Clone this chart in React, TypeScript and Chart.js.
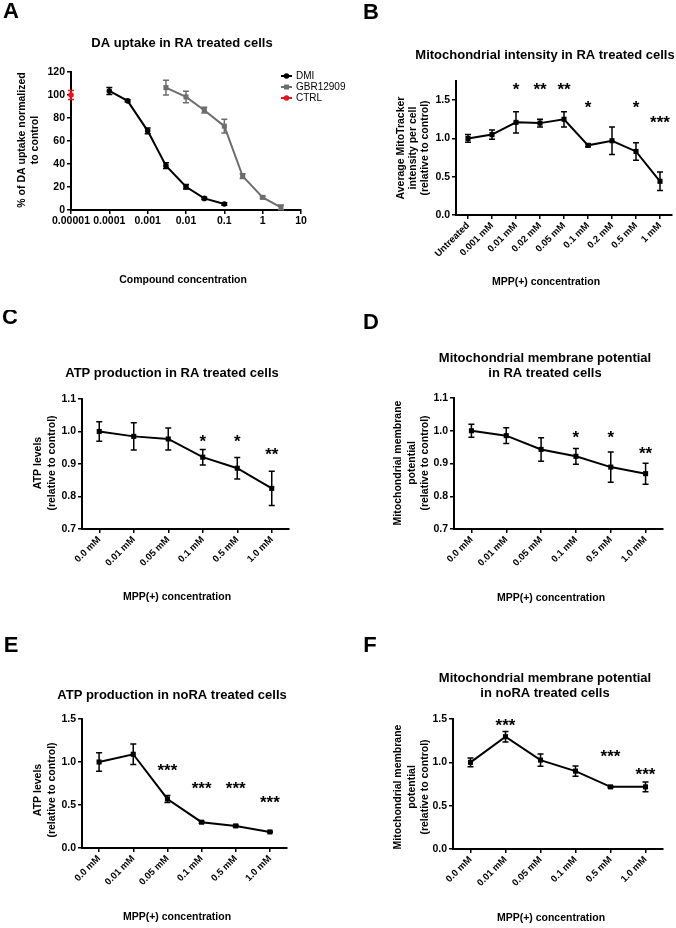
import React, { useEffect, useRef } from 'react';
import { Chart, registerables } from 'chart.js';
Chart.register(...registerables);

const FONT = "'Liberation Sans', Arial, Helvetica, sans-serif";

// ---------- Panel A data ----------
const A_X_TICKS = [0.00001, 0.0001, 0.001, 0.01, 0.1, 1, 10];
const A_X_TICK_LABELS = ['0.00001', '0.0001', '0.001', '0.01', '0.1', '1', '10'];
const A_Y_TICKS = [0, 20, 40, 60, 80, 100, 120];
const A_DMI_X = [0.0001, 0.0003, 0.001, 0.003, 0.01, 0.03, 0.1];
const A_DMI_Y = [103.5, 94.9, 68.8, 38.5, 20.2, 10.1, 5.2];
const A_DMI_ERR = [3, 1, 2.5, 2.5, 2, 1, 1];
const A_GBR_X = [0.003, 0.01, 0.03, 0.1, 0.3, 1, 3];
const A_GBR_Y = [106.4, 98.3, 86.8, 72.9, 29.5, 11, 2.3];
const A_GBR_ERR = [6.5, 5, 2.5, 6, 2, 1, 2];
const A_CTRL_X = [0.00001];
const A_CTRL_Y = [100];
const A_CTRL_ERR = [4];
const A_SERIES = ['DMI', 'GBR12909', 'CTRL'];

// ---------- Panel B data ----------
const B_CATEGORIES = ['Untreated', '0.001 mM', '0.01 mM', '0.02 mM', '0.05 mM', '0.1 mM', '0.2 mM', '0.5 mM', '1 mM'];
const B_VALUES = [1.0, 1.05, 1.21, 1.2, 1.25, 0.91, 0.97, 0.83, 0.44];
const B_ERRORS = [0.05, 0.06, 0.14, 0.05, 0.1, 0.02, 0.18, 0.115, 0.12];
const B_STARS = ['', '', '*', '**', '**', '*', '', '*', '***'];
const B_STAR_Y = [null, null, 1.69, 1.69, 1.69, 1.46, null, 1.46, 1.26];
const B_Y_TICKS = [0, 0.5, 1.0, 1.5];

// ---------- Panels C-F shared categories ----------
const MPP_CATEGORIES = ['0.0 mM', '0.01 mM', '0.05 mM', '0.1 mM', '0.5 mM', '1.0 mM'];

const C_VALUES = [1.0, 0.985, 0.977, 0.921, 0.887, 0.825];
const C_ERRORS = [0.03, 0.042, 0.034, 0.024, 0.033, 0.053];
const C_STARS = ['', '', '', '*', '*', '**'];
const C_STAR_Y = [null, null, null, 0.983, 0.983, 0.943];
const C_Y_TICKS = [0.7, 0.8, 0.9, 1.0, 1.1];

const D_VALUES = [1.0, 0.985, 0.943, 0.922, 0.889, 0.869];
const D_ERRORS = [0.02, 0.024, 0.036, 0.024, 0.046, 0.032];
const D_STARS = ['', '', '', '*', '*', '**'];
const D_STAR_Y = [null, null, null, 0.992, 0.992, 0.943];
const D_Y_TICKS = [0.7, 0.8, 0.9, 1.0, 1.1];

const E_VALUES = [1.0, 1.09, 0.57, 0.3, 0.257, 0.187];
const E_ERRORS = [0.107, 0.12, 0.04, 0.012, 0.01, 0.008];
const E_STARS = ['', '', '***', '***', '***', '***'];
const E_STAR_Y = [null, null, 0.945, 0.74, 0.74, 0.578];
const E_Y_TICKS = [0, 0.5, 1.0, 1.5];

const F_VALUES = [1.0, 1.296, 1.026, 0.899, 0.717, 0.717];
const F_ERRORS = [0.05, 0.06, 0.07, 0.06, 0.01, 0.055];
const F_STARS = ['', '***', '', '', '***', '***'];
const F_STAR_Y = [null, 1.47, null, null, 1.11, 0.91];
const F_Y_TICKS = [0, 0.5, 1.0, 1.5];

// ---------- helpers ----------
const Y_W = 30;
const X_H = 50;

type TextItem = { text: string; x: number; y: number; size: number; rotate?: boolean };

function textPlugin(items: TextItem[]) {
  return {
    id: 'panelText',
    afterDraw(chart: any) {
      const ctx = chart.ctx;
      for (const it of items) {
        ctx.save();
        ctx.font = `bold ${it.size}px ${FONT}`;
        ctx.fillStyle = '#000';
        ctx.textAlign = 'center';
        ctx.textBaseline = 'middle';
        ctx.translate(it.x, it.y);
        if (it.rotate) ctx.rotate(-Math.PI / 2);
        ctx.fillText(it.text, 0, 0);
        ctx.restore();
      }
    },
  };
}

const errorBarPlugin = {
  id: 'errorBars',
  afterDatasetsDraw(chart: any) {
    const ctx = chart.ctx;
    chart.data.datasets.forEach((ds: any, di: number) => {
      const errs = ds.errors;
      if (!errs) return;
      const meta = chart.getDatasetMeta(di);
      const yScale = chart.scales[meta.yAxisID];
      ctx.save();
      ctx.strokeStyle = ds.borderColor;
      ctx.lineWidth = 1.5;
      meta.data.forEach((pt: any, i: number) => {
        const raw = ds.data[i];
        const val = typeof raw === 'object' ? raw.y : raw;
        const e = errs[i];
        if (!e) return;
        const yTop = yScale.getPixelForValue(val + e);
        const yBot = yScale.getPixelForValue(val - e);
        const x = pt.x;
        ctx.beginPath();
        ctx.moveTo(x, yTop);
        ctx.lineTo(x, yBot);
        ctx.moveTo(x - 3, yTop);
        ctx.lineTo(x + 3, yTop);
        ctx.moveTo(x - 3, yBot);
        ctx.lineTo(x + 3, yBot);
        ctx.stroke();
      });
      ctx.restore();
    });
  },
};

function starPlugin(labels: string[], values: (number | null)[], size: number) {
  return {
    id: 'stars',
    afterDatasetsDraw(chart: any) {
      const ctx = chart.ctx;
      const xs = chart.scales.x;
      const ys = chart.scales.y;
      ctx.save();
      ctx.font = `bold ${size}px ${FONT}`;
      ctx.fillStyle = '#000';
      ctx.textAlign = 'center';
      ctx.textBaseline = 'alphabetic';
      labels.forEach((lab, i) => {
        const v = values[i];
        if (!lab || v == null) return;
        const x = xs.getPixelForValue(i);
        const y = ys.getPixelForValue(v);
        ctx.fillText(lab, x, y + 0.57 * size);
      });
      ctx.restore();
    },
  };
}

function legendPlugin(entries: { label: string; color: string; style: string }[], x: number, ys: number[]) {
  return {
    id: 'legendA',
    afterDraw(chart: any) {
      const ctx = chart.ctx;
      entries.forEach((en, i) => {
        const y = ys[i];
        ctx.save();
        ctx.strokeStyle = en.color;
        ctx.fillStyle = en.color;
        ctx.lineWidth = 2;
        ctx.beginPath();
        ctx.moveTo(x, y);
        ctx.lineTo(x + 11, y);
        ctx.stroke();
        ctx.beginPath();
        if (en.style === 'rect') ctx.rect(x + 5.5 - 2.5, y - 2.5, 5, 5);
        else ctx.arc(x + 5.5, y, 2.8, 0, Math.PI * 2);
        ctx.fill();
        ctx.fillStyle = '#000';
        ctx.font = `10px ${FONT}`;
        ctx.textAlign = 'left';
        ctx.textBaseline = 'middle';
        ctx.fillText(en.label, x + 15, y);
        ctx.restore();
      });
    },
  };
}

type Geom = { x: number; y: number; w: number; h: number; l: number; r: number; t: number; b: number };

function padding(g: Geom) {
  return {
    left: g.l - g.x - Y_W,
    right: g.x + g.w - g.r,
    top: g.t - g.y,
    bottom: g.y + g.h - g.b - X_H,
  };
}

const tickFont = (size: number) => ({ family: FONT, weight: 'bold' as const, size });

function yScale(min: number, max: number, ticks: number[], decimals: number) {
  return {
    type: 'linear',
    min,
    max,
    afterBuildTicks: (s: any) => {
      s.ticks = ticks.map((v) => ({ value: v }));
    },
    afterFit: (s: any) => {
      s.width = Y_W;
    },
    border: { display: true, color: '#000', width: 2 },
    grid: { display: true, drawOnChartArea: false, drawTicks: true, tickLength: 4, color: '#000', lineWidth: 1.5 },
    ticks: {
      color: '#000',
      font: tickFont(10.5),
      padding: 2,
      callback: (v: any) => Number(v).toFixed(decimals),
    },
  };
}

function categoryX() {
  return {
    type: 'category',
    offset: true,
    afterFit: (s: any) => {
      s.height = X_H;
    },
    border: { display: true, color: '#000', width: 2 },
    grid: { display: true, offset: false, drawOnChartArea: false, drawTicks: true, tickLength: 4, color: '#000', lineWidth: 1.5 },
    ticks: {
      color: '#000',
      font: tickFont(9.5),
      padding: 1,
      autoSkip: false,
      minRotation: 45,
      maxRotation: 45,
    },
  };
}

function baseOptions(g: Geom, scales: any) {
  return {
    responsive: false,
    maintainAspectRatio: false,
    animation: false,
    events: [],
    layout: { padding: padding(g) },
    plugins: { legend: { display: false }, tooltip: { enabled: false }, title: { display: false } },
    scales,
  };
}

function categoryConfig(
  g: Geom,
  labels: string[],
  values: number[],
  errors: number[],
  yMin: number,
  yMax: number,
  yTicks: number[],
  stars: string[],
  starY: (number | null)[],
  texts: TextItem[]
) {
  return {
    type: 'line',
    data: {
      labels,
      datasets: [
        {
          data: values,
          errors,
          borderColor: '#000',
          backgroundColor: '#000',
          borderWidth: 2,
          pointStyle: 'rect',
          pointRadius: 3.6,
          pointBorderWidth: 0,
          tension: 0,
          clip: false,
        },
      ],
    },
    options: baseOptions(g, { x: categoryX(), y: yScale(yMin, yMax, yTicks, 1) }),
    plugins: [errorBarPlugin, starPlugin(stars, starY, 17), textPlugin(texts)],
  };
}

function configA() {
  const g: Geom = { x: 0, y: 0, w: 360, h: 310, l: 71, r: 301, t: 72, b: 210 };
  const pts = (xs: number[], ys: number[]) => xs.map((x, i) => ({ x, y: ys[i] }));
  const texts: TextItem[] = [
    { text: 'A', x: 11, y: 12, size: 22 },
    { text: 'DA uptake in RA treated cells', x: 182, y: 43, size: 13 },
    { text: '% of DA uptake normalized', x: 22, y: 140, size: 10.5, rotate: true },
    { text: 'to control', x: 35, y: 140, size: 10.5, rotate: true },
    { text: 'Compound concentration', x: 183, y: 280, size: 10.5 },
  ];
  const colors = ['#000000', '#6d6d6d', '#e3161d'];
  return {
    type: 'line',
    data: {
      datasets: [
        {
          label: A_SERIES[0],
          data: pts(A_DMI_X, A_DMI_Y),
          errors: A_DMI_ERR,
          borderColor: colors[0],
          backgroundColor: colors[0],
          borderWidth: 2,
          pointStyle: 'circle',
          pointRadius: 2.8,
          pointBorderWidth: 0,
          clip: false,
        },
        {
          label: A_SERIES[1],
          data: pts(A_GBR_X, A_GBR_Y),
          errors: A_GBR_ERR,
          borderColor: colors[1],
          backgroundColor: colors[1],
          borderWidth: 2,
          pointStyle: 'rect',
          pointRadius: 3.6,
          pointBorderWidth: 0,
          clip: false,
        },
        {
          label: A_SERIES[2],
          data: pts(A_CTRL_X, A_CTRL_Y),
          errors: A_CTRL_ERR,
          borderColor: colors[2],
          backgroundColor: colors[2],
          borderWidth: 2,
          pointStyle: 'circle',
          pointRadius: 2.8,
          pointBorderWidth: 0,
          clip: false,
        },
      ],
    },
    options: baseOptions(g, {
      x: {
        type: 'logarithmic',
        min: 0.00001,
        max: 10,
        afterBuildTicks: (s: any) => {
          s.ticks = A_X_TICKS.map((v) => ({ value: v }));
        },
        afterFit: (s: any) => {
          s.height = X_H;
        },
        border: { display: true, color: '#000', width: 2 },
        grid: { display: true, drawOnChartArea: false, drawTicks: true, tickLength: 4, color: '#000', lineWidth: 1.5 },
        ticks: {
          color: '#000',
          font: tickFont(10.5),
          padding: 1,
          autoSkip: false,
          maxRotation: 0,
          minRotation: 0,
          callback: (_v: any, i: number) => A_X_TICK_LABELS[i],
        },
      },
      y: yScale(0, 120, A_Y_TICKS, 0),
    }),
    plugins: [
      errorBarPlugin,
      textPlugin(texts),
      legendPlugin(
        A_SERIES.map((label, i) => ({ label, color: colors[i], style: i === 1 ? 'rect' : 'circle' })),
        281,
        [76, 87, 98]
      ),
    ],
  };
}

function configB() {
  const g: Geom = { x: 338, y: 0, w: 338, h: 310, l: 456, r: 672, t: 81, b: 215 };
  const texts: TextItem[] = [
    { text: 'B', x: 33, y: 13, size: 22 },
    { text: 'Mitochondrial intensity in RA treated cells', x: 207, y: 55, size: 13 },
    { text: 'Average MitoTracker', x: 63, y: 148, size: 10.5, rotate: true },
    { text: 'intensity per cell', x: 75, y: 148, size: 10.5, rotate: true },
    { text: '(relative to control)', x: 87, y: 148, size: 10.5, rotate: true },
    { text: 'MPP(+) concentration', x: 208, y: 282, size: 10.5 },
  ];
  return categoryConfig(g, B_CATEGORIES, B_VALUES, B_ERRORS, 0, 1.75, B_Y_TICKS, B_STARS, B_STAR_Y, texts);
}

function configC() {
  const g: Geom = { x: 0, y: 310, w: 338, h: 310, l: 82, r: 289, t: 399, b: 529 };
  const texts: TextItem[] = [
    { text: 'C', x: 10, y: 8, size: 22 },
    { text: 'ATP production in RA treated cells', x: 172, y: 63, size: 13 },
    { text: 'ATP levels', x: 38, y: 153, size: 10.5, rotate: true },
    { text: '(relative to control)', x: 52, y: 153, size: 10.5, rotate: true },
    { text: 'MPP(+) concentration', x: 177, y: 287, size: 10.5 },
  ];
  return categoryConfig(g, MPP_CATEGORIES, C_VALUES, C_ERRORS, 0.7, 1.1, C_Y_TICKS, C_STARS, C_STAR_Y, texts);
}

function configD() {
  const g: Geom = { x: 338, y: 310, w: 338, h: 310, l: 454, r: 663, t: 398, b: 529 };
  const texts: TextItem[] = [
    { text: 'D', x: 33, y: 13, size: 22 },
    { text: 'Mitochondrial membrane potential', x: 207, y: 48, size: 13 },
    { text: 'in RA treated cells', x: 207, y: 63, size: 13 },
    { text: 'Mitochondrial membrane', x: 60, y: 153, size: 10.5, rotate: true },
    { text: 'potential', x: 74, y: 153, size: 10.5, rotate: true },
    { text: '(relative to control)', x: 87, y: 153, size: 10.5, rotate: true },
    { text: 'MPP(+) concentration', x: 213, y: 288, size: 10.5 },
  ];
  return categoryConfig(g, MPP_CATEGORIES, D_VALUES, D_ERRORS, 0.7, 1.1, D_Y_TICKS, D_STARS, D_STAR_Y, texts);
}

function configE() {
  const g: Geom = { x: 0, y: 620, w: 338, h: 308, l: 82, r: 287, t: 719, b: 848 };
  const texts: TextItem[] = [
    { text: 'E', x: 11, y: 26, size: 22 },
    { text: 'ATP production in noRA treated cells', x: 172, y: 75, size: 13 },
    { text: 'ATP levels', x: 38, y: 170, size: 10.5, rotate: true },
    { text: '(relative to control)', x: 52, y: 170, size: 10.5, rotate: true },
    { text: 'MPP(+) concentration', x: 177, y: 297, size: 10.5 },
  ];
  return categoryConfig(g, MPP_CATEGORIES, E_VALUES, E_ERRORS, 0, 1.5, E_Y_TICKS, E_STARS, E_STAR_Y, texts);
}

function configF() {
  const g: Geom = { x: 338, y: 620, w: 338, h: 308, l: 453, r: 663, t: 719, b: 849 };
  const texts: TextItem[] = [
    { text: 'F', x: 32, y: 26, size: 22 },
    { text: 'Mitochondrial membrane potential', x: 207, y: 58, size: 13 },
    { text: 'in noRA treated cells', x: 207, y: 73, size: 13 },
    { text: 'Mitochondrial membrane', x: 60, y: 167, size: 10.5, rotate: true },
    { text: 'potential', x: 74, y: 167, size: 10.5, rotate: true },
    { text: '(relative to control)', x: 87, y: 167, size: 10.5, rotate: true },
    { text: 'MPP(+) concentration', x: 213, y: 298, size: 10.5 },
  ];
  return categoryConfig(g, MPP_CATEGORIES, F_VALUES, F_ERRORS, 0, 1.5, F_Y_TICKS, F_STARS, F_STAR_Y, texts);
}

function Panel({ x, y, w, h, build }: { x: number; y: number; w: number; h: number; build: () => any }) {
  const ref = useRef<HTMLCanvasElement>(null);
  useEffect(() => {
    const chart = new Chart(ref.current as HTMLCanvasElement, build());
    return () => chart.destroy();
  }, []);
  return (
    <canvas
      ref={ref}
      width={w}
      height={h}
      style={{ position: 'absolute', left: x, top: y, width: w, height: h }}
    />
  );
}

export default function App() {
  return (
    <div style={{ position: 'absolute', left: 0, top: 0, width: 676, height: 928, background: '#fff', overflow: 'hidden' }}>
      <Panel x={338} y={0} w={338} h={310} build={configB} />
      <Panel x={0} y={0} w={360} h={310} build={configA} />
      <Panel x={0} y={310} w={338} h={310} build={configC} />
      <Panel x={338} y={310} w={338} h={310} build={configD} />
      <Panel x={0} y={620} w={338} h={308} build={configE} />
      <Panel x={338} y={620} w={338} h={308} build={configF} />
    </div>
  );
}
